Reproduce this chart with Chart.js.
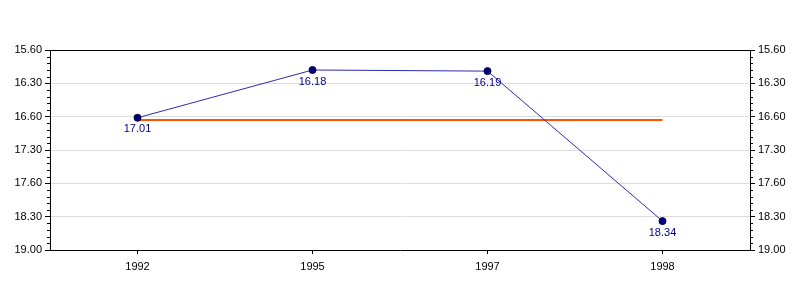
<!DOCTYPE html>
<html>
<head>
<meta charset="utf-8">
<script src="https://cdn.jsdelivr.net/npm/chart.js@4"></script>
<style>
  html, body { margin: 0; padding: 0; background: #fff; }
  canvas { display: block; }
</style>
</head>
<body>
<canvas id="chart" width="800" height="300"></canvas>
<script>
// values as printed on the chart (minutes.seconds)
const years = ['1992', '1995', '1997', '1998'];
const times = ['17.01', '16.18', '16.19', '18.34'];
const tickLabels = ['15.60', '16.30', '16.60', '17.30', '17.60', '18.30', '19.00'];

// "m.ss" -> seconds, so the axis is linear in time
function toSec(s) {
  const parts = s.split('.');
  return Number(parts[0]) * 60 + Number(parts[1]);
}

const secs = times.map(toSec);
const tickSecs = tickLabels.map(toSec);
const avg = secs.reduce((a, b) => a + b, 0) / secs.length;

const font = { family: '"Liberation Sans", Arial, sans-serif', size: 11 };

function yAxis(position, showGrid) {
  return {
    type: 'linear',
    position: position,
    reverse: true,
    min: tickSecs[0],
    max: tickSecs[tickSecs.length - 1],
    afterBuildTicks: s => { s.ticks = tickSecs.map(v => ({ value: v })); },
    afterFit: s => { s.width = 50; },
    border: { display: true, color: '#000', width: 1 },
    grid: {
      drawOnChartArea: showGrid,
      color: '#dddddd',
      tickColor: '#000',
      tickLength: 5,
      drawTicks: true
    },
    ticks: {
      color: '#000',
      font: font,
      padding: 3,
      callback: v => tickLabels[tickSecs.indexOf(v)]
    }
  };
}

// box round the plot area, minor ticks, point labels
const extras = {
  id: 'extras',
  afterDatasetsDraw(chart) {
    const ctx = chart.ctx;
    const a = chart.chartArea;
    ctx.save();
    ctx.strokeStyle = '#000';
    ctx.lineWidth = 1;
    ctx.beginPath();
    ctx.moveTo(a.left, a.top + 0.5);
    ctx.lineTo(a.right, a.top + 0.5);
    ctx.stroke();

    const ys = chart.scales.y;
    ctx.beginPath();
    for (let i = 0; i < tickSecs.length - 1; i++) {
      const step = (tickSecs[i + 1] - tickSecs[i]) / 5;
      for (let k = 1; k < 5; k++) {
        const py = Math.round(ys.getPixelForValue(tickSecs[i] + k * step)) + 0.5;
        ctx.moveTo(a.left - 3, py);
        ctx.lineTo(a.left, py);
        ctx.moveTo(a.right, py);
        ctx.lineTo(a.right + 3, py);
      }
    }
    ctx.stroke();

    const meta = chart.getDatasetMeta(0);
    ctx.fillStyle = '#000080';
    ctx.font = '11px "Liberation Sans", Arial, sans-serif';
    ctx.textAlign = 'center';
    ctx.textBaseline = 'top';
    meta.data.forEach((pt, i) => {
      ctx.fillText(times[i], pt.x, pt.y + 6);
    });
    ctx.restore();
  }
};

new Chart(document.getElementById('chart'), {
  type: 'line',
  data: {
    labels: years,
    datasets: [
      {
        data: secs,
        borderColor: '#2b2bb0',
        borderWidth: 1,
        pointRadius: 3.5,
        pointBackgroundColor: '#000080',
        pointBorderColor: '#000040',
        pointBorderWidth: 1,
        tension: 0,
        yAxisID: 'y'
      },
      {
        data: years.map(() => avg),
        borderColor: '#ff5500',
        borderWidth: 2,
        pointRadius: 0,
        tension: 0,
        yAxisID: 'y'
      }
    ]
  },
  options: {
    responsive: false,
    animation: false,
    layout: { padding: { top: 50, left: 0, right: 0, bottom: 0 } },
    plugins: {
      legend: { display: false },
      tooltip: { enabled: false }
    },
    scales: {
      x: {
        type: 'category',
        offset: true,
        afterFit: s => { s.height = 50; },
        border: { display: true, color: '#000', width: 1 },
        grid: {
          offset: false,
          drawOnChartArea: false,
          tickColor: '#000',
          tickLength: 4
        },
        ticks: { color: '#000', font: font, padding: 6, maxRotation: 0 }
      },
      y: yAxis('left', true),
      y2: yAxis('right', false)
    }
  },
  plugins: [extras]
});
</script>
</body>
</html>
